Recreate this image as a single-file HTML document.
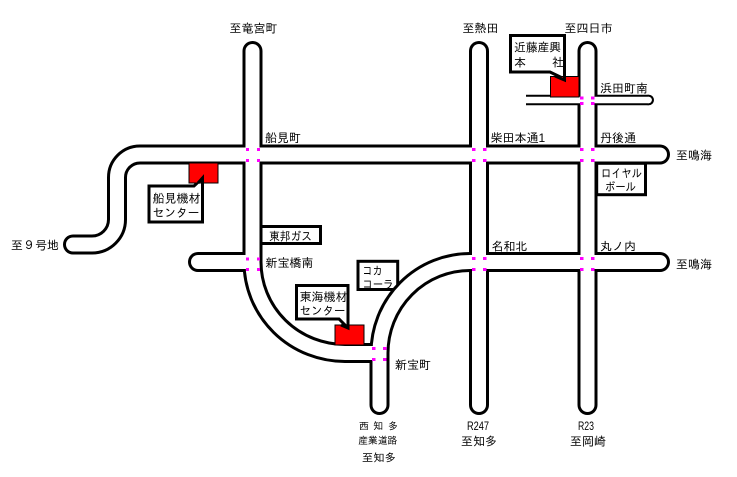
<!DOCTYPE html>
<html><head><meta charset="utf-8"><style>
html,body{margin:0;padding:0;background:#fff;}
svg{display:block;}
text{font-family:"Liberation Sans","IPAGothic","Noto Sans CJK JP",sans-serif;font-size:12px;fill:#000;}
</style></head><body>
<svg width="737" height="477" viewBox="0 0 737 477" xmlns="http://www.w3.org/2000/svg">
<rect width="737" height="477" fill="#fff"/>
<!-- label boxes under roads -->
<g fill="#fff" stroke="#000" stroke-width="3">
<rect x="261" y="226.5" width="59.5" height="17"/>
<rect x="358" y="261.3" width="39.7" height="28.2"/>
<rect x="596.7" y="163.3" width="48.8" height="31.4"/>
</g>
<!-- roads black -->
<g fill="none" stroke="#000" stroke-width="20" stroke-linecap="round" stroke-linejoin="round">
<path d="M660 154.5 H140 A23 23 0 0 0 117 177.5 V219.5 A25 25 0 0 1 92 244.5 H73"/>
<path d="M252.5 51 V262 A92.5 91 0 0 0 345 353 H379.5"/>
<path d="M198 262 H252.5"/>
<path d="M379.5 405 V353 A90.5 91 0 0 1 470 262 H660"/>
<path d="M479 51 V405"/>
<path d="M587.5 51 V405"/>
</g>
<path d="M526 100 H648.7" stroke="#000" stroke-width="10.6" fill="none"/>
<circle cx="648.7" cy="100" r="5.3" fill="#000"/>
<!-- roads white -->
<g fill="none" stroke="#fff" stroke-width="14" stroke-linecap="round" stroke-linejoin="round">
<path d="M660 154.5 H140 A23 23 0 0 0 117 177.5 V219.5 A25 25 0 0 1 92 244.5 H73"/>
<path d="M252.5 51 V262 A92.5 91 0 0 0 345 353 H379.5"/>
<path d="M198 262 H252.5"/>
<path d="M379.5 405 V353 A90.5 91 0 0 1 470 262 H660"/>
<path d="M479 51 V405"/>
<path d="M587.5 51 V405"/>
</g>
<path d="M522 100 H648.7" stroke="#fff" stroke-width="6.4" fill="none"/>
<circle cx="648.7" cy="100" r="3.2" fill="#fff"/>
<!-- callouts -->
<g fill="#fff" stroke="#000" stroke-width="3" stroke-linejoin="miter">
<path d="M510.5 35.5 H564.5 V79 L550 72 H510.5 Z"/>
<path d="M149 186 H194 L202.5 178 V222 H149 Z"/>
<path d="M296.5 285.5 H348 V328 L339 319 H296.5 Z"/>
</g>
<!-- red buildings -->
<g fill="#ff0000" stroke="#000" stroke-width="1">
<rect x="550.5" y="76.5" width="28.5" height="20.5"/>
<rect x="189" y="163" width="29" height="20"/>
<rect x="335" y="325" width="29" height="20"/>
</g>
<g fill="none" stroke="#000" stroke-width="3">
<path d="M555 76 L564.5 80 V76"/>
<path d="M198 183 L202.5 178 V183"/>
<path d="M341 325 L348 328 V325"/>
</g>
<!-- magenta dots -->
<g fill="#ff00ff">
<rect x="246" y="148" width="3" height="3"/><rect x="257" y="148" width="3" height="3"/><rect x="246" y="159" width="3" height="3"/><rect x="257" y="159" width="3" height="3"/>
<rect x="472" y="148" width="3.5" height="3"/><rect x="483" y="148" width="3.5" height="3"/><rect x="472" y="159" width="3.5" height="3"/><rect x="483" y="159" width="3.5" height="3"/>
<rect x="580" y="148" width="3.5" height="3"/><rect x="591" y="148" width="3.5" height="3"/><rect x="580" y="159" width="3.5" height="3"/><rect x="591" y="159" width="3.5" height="3"/>
<rect x="580" y="96.5" width="3.5" height="3"/><rect x="591" y="96.5" width="3.5" height="3"/><rect x="580" y="102" width="3.5" height="3"/><rect x="591" y="102" width="3.5" height="3"/>
<rect x="472" y="257" width="3.5" height="3"/><rect x="483" y="257" width="3.5" height="3"/><rect x="472" y="268" width="3.5" height="3"/><rect x="483" y="268" width="3.5" height="3"/>
<rect x="580" y="257" width="3.5" height="3"/><rect x="591" y="257" width="3.5" height="3"/><rect x="580" y="268" width="3.5" height="3"/><rect x="591" y="268" width="3.5" height="3"/>
<rect x="246" y="257.5" width="3" height="3"/><rect x="257" y="257.5" width="3" height="3"/><rect x="246" y="268" width="3" height="3"/><rect x="257" y="268" width="3" height="3"/>
<rect x="372" y="347" width="3.5" height="3"/><rect x="383" y="347" width="3.5" height="3"/><rect x="372" y="358" width="3.5" height="3"/><rect x="383" y="358" width="3.5" height="3"/>
</g>
<!-- labels -->
<text x="229.5" y="32.5">至竜宮町</text>
<text x="462.5" y="32.5">至熱田</text>
<text x="564.5" y="32.5">至四日市</text>
<text x="514" y="51.5" textLength="47" lengthAdjust="spacingAndGlyphs">近藤産興</text>
<text x="514" y="66.3">本</text>
<text x="552" y="66.3">社</text>
<text x="600" y="92.5">浜田町南</text>
<text x="265" y="142">船見町</text>
<text x="490.5" y="142">柴田本通1</text>
<text x="600" y="142">丹後通</text>
<text x="676" y="159.5">至鳴海</text>
<text x="601" y="177.5" textLength="41" lengthAdjust="spacingAndGlyphs">ロイヤル</text>
<text x="605" y="191" textLength="31" lengthAdjust="spacingAndGlyphs">ボール</text>
<text x="152.5" y="202.5">船見機材</text>
<text x="152.5" y="217" textLength="47" lengthAdjust="spacingAndGlyphs">センター</text>
<text x="269" y="240.5" textLength="43" lengthAdjust="spacingAndGlyphs">東邦ガス</text>
<text x="11" y="249.5">至９号地</text>
<text x="491.5" y="250.5">名和北</text>
<text x="600" y="250.5">丸ノ内</text>
<text x="265.5" y="267">新宝橋南</text>
<text x="676" y="268.5">至鳴海</text>
<text x="362.5" y="275" textLength="20" lengthAdjust="spacingAndGlyphs">コカ</text>
<text x="362.5" y="288.5" textLength="31" lengthAdjust="spacingAndGlyphs">コーラ</text>
<text x="299.5" y="301">東海機材</text>
<text x="299.5" y="315" textLength="46" lengthAdjust="spacingAndGlyphs">センター</text>
<text x="395" y="369">新宝町</text>
<text x="359" y="429.5" style="font-size:10px">西</text>
<text x="373.3" y="429.5" style="font-size:10px">知</text>
<text x="388" y="429.5" style="font-size:10px">多</text>
<text x="358.3" y="444" style="font-size:10px" textLength="39" lengthAdjust="spacingAndGlyphs">産業道路</text>
<text x="362" y="461.5" style="font-size:11px" textLength="34" lengthAdjust="spacingAndGlyphs">至知多</text>
<text x="467" y="430" textLength="22" lengthAdjust="spacingAndGlyphs">R247</text>
<text x="461" y="445.5">至知多</text>
<text x="578" y="430" textLength="16" lengthAdjust="spacingAndGlyphs">R23</text>
<text x="570" y="445.5">至岡崎</text>
</svg>
</body></html>
